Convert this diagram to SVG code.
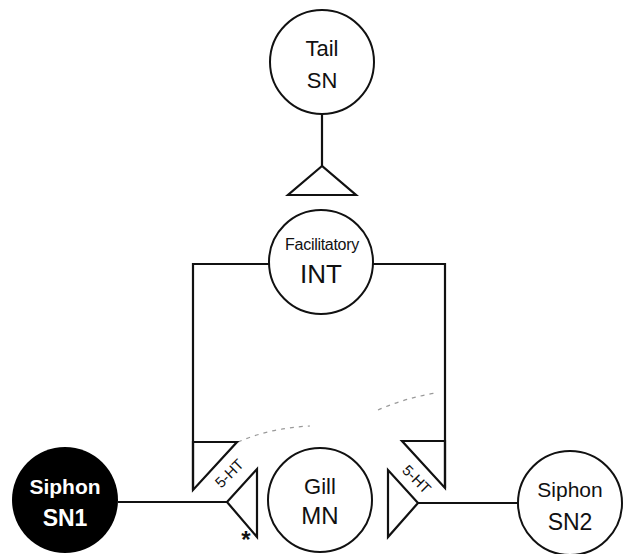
<svg xmlns="http://www.w3.org/2000/svg" width="623" height="554" viewBox="0 0 623 554">
<style>
.c{fill:#fff;stroke:#111;stroke-width:2}
.l{fill:none;stroke:#111;stroke-width:2.2}
.t{fill:none;stroke:#111;stroke-width:2.2;stroke-linejoin:miter}
.tx{font-family:"Liberation Sans",Arial,sans-serif;fill:#111;text-anchor:middle}
.w{font-family:"Liberation Sans",Arial,sans-serif;fill:#fff;text-anchor:middle;font-weight:bold}
.d{fill:none;stroke:#999;stroke-width:1.2;stroke-dasharray:4 5}
</style>
<rect width="623" height="554" fill="#fff"/>
<g id="connectors">
<line class="l" x1="322" y1="114" x2="322" y2="166"/>
<polyline class="l" points="269,264 193,264 193,490"/>
<polyline class="l" points="373,264 445,264 445,488"/>
<line class="l" x1="118" y1="502" x2="227" y2="502"/>
<line class="l" x1="418" y1="503" x2="518" y2="503"/>
<path class="d" d="M238,442 Q270,428 310,426"/>
<path class="d" d="M378,410 Q405,398 436,393"/>
</g>
<g id="tail-terminal"><polygon class="t" points="322,166 288,195 356,195"/></g>
<g id="tail-sn">
<circle class="c" cx="322" cy="62" r="52"/>
<text class="tx" x="322" y="56" font-size="22">Tail</text>
<text class="tx" x="322" y="88" font-size="22">SN</text>
</g>
<g id="int">
<circle class="c" cx="321" cy="262" r="52"/>
<text class="tx" x="322" y="250" font-size="16" letter-spacing="-0.3">Facilitatory</text>
<text class="tx" x="321" y="283" font-size="26">INT</text>
</g>
<g id="left-5ht">
<polygon class="t" points="193,442 237,442 193,490"/>
<text class="tx" font-size="15" transform="translate(233,477) rotate(-45)">5-HT</text>
</g>
<g id="right-5ht">
<polygon class="t" points="402,441 445,441 445,488"/>
<text class="tx" font-size="15" transform="translate(413,483) rotate(45)">5-HT</text>
</g>
<g id="sn1-terminal">
<polygon class="t" points="257,469 257,537 227,502"/>
<text class="tx" x="246" y="548" font-size="24" font-weight="bold">*</text>
</g>
<g id="sn2-terminal"><polygon class="t" points="388,470 388,537 418,503"/></g>
<g id="sn1">
<circle cx="65" cy="500" r="53" fill="#000"/>
<text class="w" x="65" y="494" font-size="21">Siphon</text>
<text class="w" x="65" y="526" font-size="23">SN1</text>
</g>
<g id="gill-mn">
<circle class="c" cx="320" cy="500" r="52"/>
<text class="tx" x="320" y="494" font-size="22">Gill</text>
<text class="tx" x="320" y="524" font-size="24">MN</text>
</g>
<g id="sn2">
<circle class="c" cx="570" cy="503" r="52"/>
<text class="tx" x="570" y="497" font-size="21">Siphon</text>
<text class="tx" x="570" y="530" font-size="23">SN2</text>
</g>
</svg>
